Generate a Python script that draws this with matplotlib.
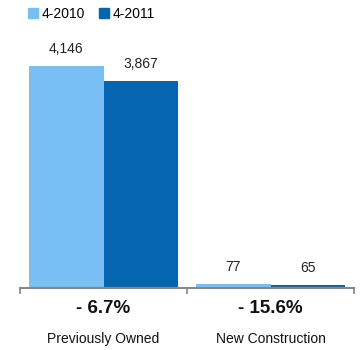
import matplotlib
matplotlib.use("Agg")
import matplotlib.pyplot as plt
from matplotlib.patches import Patch
import matplotlib.transforms as mtransforms

plt.rcParams['font.family'] = ['Liberation Sans', 'DejaVu Sans']

categories = ["Previously Owned", "New Construction"]
series_names = ["4-2010", "4-2011"]
values_2010 = [4146, 77]
values_2011 = [3867, 65]
change_labels = ["- 6.7%", "- 15.6%"]

c_light = "#78BFF6"
c_dark = "#0565B0"

fig = plt.figure(figsize=(3.61, 3.5), dpi=100)
W, H = 361, 350
ax = fig.add_axes([20 / W, 1 - 288 / H, (354 - 20) / W, (288 - 30) / H])

x = list(range(len(categories)))
w = 0.447
b1 = ax.bar([i - w / 2 for i in x], values_2010, width=w, color=c_light, edgecolor='none')
b2 = ax.bar([i + w / 2 for i in x], values_2011, width=w, color=c_dark, edgecolor='none')

for bars, vals in ((b1, values_2010), (b2, values_2011)):
    for r, v in zip(bars, vals):
        ax.annotate(f"{v:,}", (r.get_x() + r.get_width() / 2, v),
                    xytext=(0, 7), textcoords='offset points',
                    ha='center', va='bottom', fontsize=10, color='#222222')

ax.set_xlim(-0.5, 1.5)
ax.set_ylim(0, 4818)
for s in ('top', 'right', 'left'):
    ax.spines[s].set_visible(False)
ax.spines['bottom'].set_color('#888888')
ax.spines['bottom'].set_linewidth(1.5)
ax.set_yticks([])
ax.set_xticks([-0.5, 0.5, 1.5])
ax.set_xticklabels([])
ax.tick_params(axis='x', direction='out', length=4, width=1.2, color='#888888')

trans = mtransforms.blended_transform_factory(ax.transData, ax.transAxes)
for i in x:
    ax.annotate(change_labels[i], (i, 0), xycoords=trans, xytext=(0, -15),
                textcoords='offset points', ha='center', va='center',
                fontsize=13.5, fontweight='bold', color='#111111')
    ax.annotate(categories[i], (i, 0), xycoords=trans, xytext=(0, -37),
                textcoords='offset points', ha='center', va='center',
                fontsize=10, color='#111111')

handles = [Patch(color=c_light), Patch(color=c_dark)]
fig.legend(handles, series_names, loc='upper left', bbox_to_anchor=(28 / W, 1 - 7 / H),
           ncol=2, frameon=False, fontsize=10, handlelength=0.7, handleheight=0.7,
           handletextpad=0.3, columnspacing=1.0, borderaxespad=0, borderpad=0)

fig.savefig("out.png", dpi=100)
